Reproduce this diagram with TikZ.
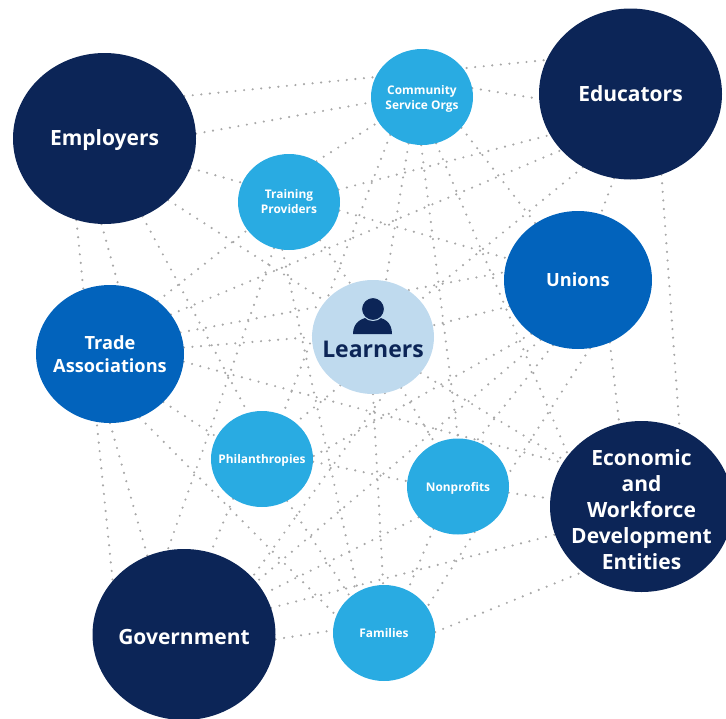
\documentclass[tikz,border=0pt]{standalone}
\usepackage{fontspec}
\setmainfont{Open Sans}
\usepackage{tikz}
\usetikzlibrary{shapes.geometric}
\usetikzlibrary{backgrounds}
\definecolor{navy}{HTML}{0C2557}
\definecolor{midblue}{HTML}{0263BC}
\definecolor{skyblue}{HTML}{29ABE2}
\definecolor{paleblue}{HTML}{BFDAEE}
\definecolor{dotgray}{HTML}{A8A8A8}
\tikzset{partner/.style={ellipse, inner sep=-25pt, align=center, text=white}}
\tikzset{large partner/.style={partner, fill=navy, minimum width=183pt, minimum height=171pt, font=\bfseries\fontsize{21}{26}\selectfont}}
\tikzset{medium partner/.style={partner, fill=midblue, minimum width=148pt, minimum height=138pt, font=\bfseries\fontsize{18.2}{23}\selectfont}}
\tikzset{small partner/.style={partner, fill=skyblue, minimum width=102pt, minimum height=96pt, font=\bfseries\fontsize{11.9}{15}\selectfont}}
\tikzset{dotted link/.style={draw=dotgray, line width=2.4pt, line cap=round, dash pattern=on 0pt off 8.6pt}}

\begin{document}
\begin{tikzpicture}[x=1pt, y=-1pt]
\useasboundingbox (0,0) rectangle (726,718);
\clip (0,0) rectangle (726,718);
\node[large partner] (emp) at (104.5,138.5) {\rule{0pt}{20pt}Employers};
\node[large partner] (edu) at (630.5,94) {Educators};
\node[large partner] (eco) at (641.5,506.5) {\rule{0pt}{22pt}Economic\\and\\Workforce\\Development\\Entities};
\node[large partner] (gov) at (184,634.5) {\rule{0pt}{20pt}Government};
\node[medium partner] (uni) at (578,280) {Unions};
\node[medium partner] (ass) at (110,354) {Trade\\Associations};
\node[small partner] (com) at (422,97) {\rule{0pt}{12pt}Community\\Service Orgs};
\node[small partner] (tra) at (289,202) {Training\\Providers};
\node[small partner] (phi) at (262,459) {\rule{0pt}{12pt}Philanthropies};
\node[small partner] (non) at (458,486.5) {\rule{0pt}{12pt}Nonprofits};
\node[small partner] (fam) at (384,633) {Families};
\node[ellipse, fill=paleblue, minimum width=122pt, minimum height=114pt] (lea) at (373,337) {};
\node[text=navy, font=\bfseries\fontsize{23}{26}\selectfont] (lealabel) at (373,349) {Learners};
% person icon
\fill[navy] (353,334) .. controls (353,322) and (362,317) .. (373,317) .. controls (384,317) and (392,322) .. (392,334) -- cycle;
\draw[fill=navy, draw=paleblue, line width=1pt] (373,309) circle (11.5pt);
\begin{scope}[on background layer]
\foreach \a/\b in {emp.28/edu.158, emp.3/com.186, emp.-19/uni.163, emp.-44/lea.143, emp.-64/phi.107,
  emp.-109/gov.143, emp.-92/ass.83, ass.-90/gov.115, ass.48/tra.214, ass.33/edu.219, ass.17/uni.174,
  ass.5/lea.180, ass.-6/eco.151, ass.-42/phi.154, ass.-65/fam.160, tra.56/com.210, tra.14/edu.207,
  tra.-108/gov.101, tra.-98/fam.122, tra.-51/lea.113, com.10/edu.183, com.-130/phi.65, com.-106/lea.77,
  com.-91/non.90, com.-73/eco.145, com.-38/uni.127, edu.-101/uni.71, edu.-69/eco.64, edu.-123/lea.38,
  uni.-63/eco.105, uni.-80/non.13, uni.-111/non.68, uni.-131/phi.3, uni.-122/gov.36, uni.201/lea.11,
  lea.-124/phi.47, lea.-78/gov.40, lea.-61/non.118, lea.-37/eco.149, lea.-90/fam.91, phi.-3/non.174,
  phi.-126/gov.72, phi.-59/fam.133, non.218/gov.27, non.-120/fam.61, non.-70/fam.31, non.-7/eco.175,
  gov.17/eco.198, gov.-3/fam.177, fam.1/eco.228}
  \draw[dotted link] (\a) -- (\b);
\end{scope}
\end{tikzpicture}
\end{document}
